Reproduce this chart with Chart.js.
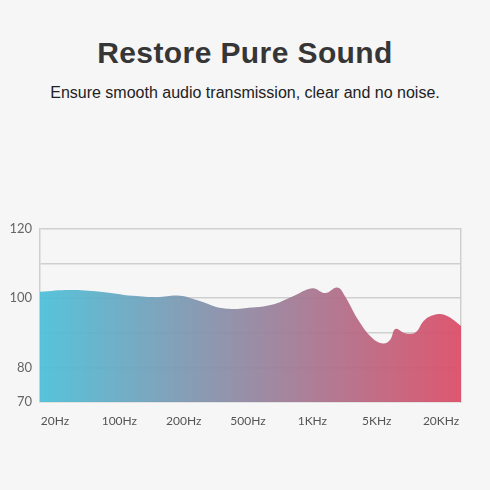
<!DOCTYPE html>
<html>
<head>
<meta charset="utf-8">
<script src="https://cdn.jsdelivr.net/npm/chart.js@4/dist/chart.umd.min.js"></script>
<style>
  html,body{margin:0;padding:0;background:#f6f6f6;width:490px;height:490px;overflow:hidden;}
  #title{position:absolute;left:0;top:36px;width:490px;text-align:center;font-family:"Liberation Sans",Arial,sans-serif;font-weight:bold;font-size:30px;color:#363636;letter-spacing:0.4px;}
  #sub{position:absolute;left:0;top:84px;width:490px;text-align:center;font-family:"Liberation Sans",Arial,sans-serif;font-size:16px;color:#222;}
  #wrap{position:absolute;left:0;top:0;width:490px;height:490px;}
</style>
</head>
<body>
<div id="title">Restore Pure Sound</div>
<div id="sub">Ensure smooth audio transmission, clear and no noise.</div>
<div id="wrap"><canvas id="c" width="490" height="490"></canvas></div>
<script>
// Tick labels
const freqLabels = ['20Hz','100Hz','200Hz','500Hz','1KHz','5KHz','20KHz'];
const yTickLabels = [70, 80, 100, 120];
// Curve samples: position along the frequency axis (label index units) and level
const curvePos = [-0.233, 0.23, 0.70, 1.21, 1.59, 1.94, 2.26, 2.52, 2.77, 2.95, 3.37, 3.69, 4.00, 4.20, 4.39, 4.51, 4.71, 4.93, 5.10, 5.21, 5.29, 5.44, 5.60, 5.75, 5.96, 6.11, 6.31];
const curveDb  = [101.9, 102.4, 101.9, 100.7, 100.3, 100.7, 99.1, 97.4, 96.9, 97.1, 98.1, 100.5, 102.9, 101.5, 103.1, 100.5, 93.8, 88.5, 86.9, 88.0, 91.1, 89.9, 90.1, 93.8, 95.4, 94.7, 92.0];

const points = curvePos.map((x, i) => ({x: x, y: curveDb[i]}));

function grad(ctx) {
  const ca = ctx.chart.chartArea;
  if (!ca) return 'rgba(150,140,160,0.9)';
  const g = ctx.chart.ctx.createLinearGradient(ca.left, 0, ca.right, 0);
  g.addColorStop(0, 'rgba(78,192,216,0.95)');
  g.addColorStop(0.5, 'rgba(148,136,162,0.95)');
  g.addColorStop(1, 'rgba(220,78,104,0.95)');
  return g;
}

new Chart(document.getElementById('c'), {
  type: 'line',
  data: {
    datasets: [{
      data: points,
      fill: 'start',
      backgroundColor: grad,
      borderWidth: 0,
      borderColor: 'rgba(0,0,0,0)',
      pointRadius: 0,
      tension: 0.4
    }]
  },
  options: {
    responsive: false,
    animation: false,
    events: [],
    layout: { padding: { left: 0, right: 29, top: 229, bottom: 48 } },
    plugins: { legend: { display: false }, tooltip: { enabled: false } },
    scales: {
      x: {
        type: 'linear',
        min: -0.233,
        max: 6.31,
        afterBuildTicks: (s) => { s.ticks = freqLabels.map((_, i) => ({ value: i })); },
        afterFit: (s) => { s.height = 40; },
        grid: { display: false },
        border: { display: false },
        ticks: {
          autoSkip: false,
          maxRotation: 0,
          padding: 4,
          color: '#555',
          font: { family: 'Lato, "Noto Sans", sans-serif', size: 12 },
          callback: (v) => freqLabels[v] !== undefined ? freqLabels[v] : ''
        }
      },
      y: {
        min: 70,
        max: 120,
        afterBuildTicks: (s) => { s.ticks = [70, 80, 90, 100, 110, 120].map(v => ({ value: v })); },
        afterFit: (s) => { s.width = 40; },
        grid: { color: '#cfcfcf', lineWidth: 1.5, drawTicks: false },
        border: { display: true, color: '#cfcfcf', width: 1.5 },
        ticks: {
          padding: 8,
          color: '#666',
          font: { family: 'Lato, "Noto Sans", sans-serif', size: 13 },
          callback: (v) => yTickLabels.includes(v) ? String(v) : ''
        }
      },
      y2: {
        position: 'right',
        min: 70,
        max: 120,
        afterFit: (s) => { s.width = 0; },
        grid: { display: false },
        border: { display: true, color: '#cfcfcf', width: 1.5 },
        ticks: { display: false }
      }
    }
  }
});
</script>
</body>
</html>
